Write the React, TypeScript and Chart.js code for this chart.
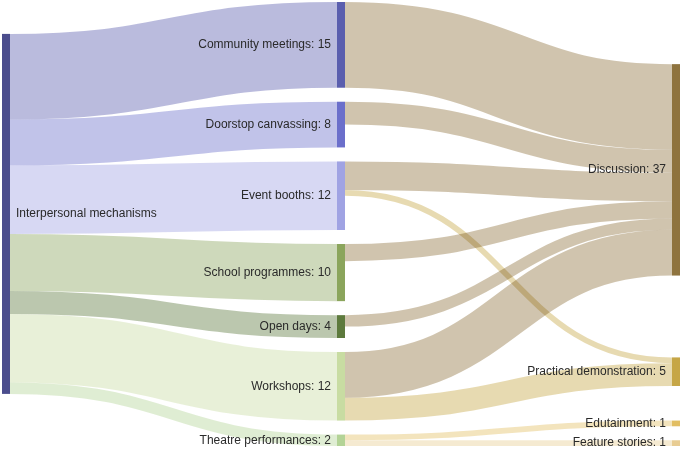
import { useEffect, useRef } from 'react';
import { Chart, registerables } from 'chart.js';

Chart.register(...registerables);

// ---------- data ----------
const nodeNames = [
  'Interpersonal mechanisms',
  'Community meetings',
  'Doorstop canvassing',
  'Event booths',
  'School programmes',
  'Open days',
  'Workshops',
  'Theatre performances',
  'Discussion',
  'Practical demonstration',
  'Edutainment',
  'Feature stories',
];

const linkSources = [0, 0, 0, 0, 0, 0, 0, 1, 2, 3, 3, 4, 5, 6, 6, 7, 7];
const linkTargets = [1, 2, 3, 4, 5, 6, 7, 8, 8, 8, 9, 8, 8, 8, 9, 10, 11];
const linkValues = [15, 8, 12, 10, 4, 12, 2, 15, 4, 5, 1, 3, 2, 8, 4, 1, 1];

// ---------- styles ----------
const nodeColors = [
  '#4b4d8d',
  '#5a5eae',
  '#6b6fcb',
  '#a0a3e3',
  '#8ba55c',
  '#5d7a3d',
  '#c8dca2',
  '#b3d396',
  '#8e733e',
  '#c6a646',
  '#e2be62',
  '#e8cc92',
];
const LINK_ALPHA = 0.42;
const NODE_WIDTH = 8;
const NODE_PADDING_PX = 14;
const ITERATIONS = 6;

function hexToRgba(hex: string, a: number) {
  const h = hex.replace('#', '');
  const r = parseInt(h.slice(0, 2), 16);
  const g = parseInt(h.slice(2, 4), 16);
  const b = parseInt(h.slice(4, 6), 16);
  return `rgba(${r},${g},${b},${a})`;
}

// ---------- d3-sankey style layout (in y-scale units) ----------
function computeSankey(y0: number, y1: number, nodePadding: number, iterations: number) {
  const nodes: any[] = nodeNames.map((name, index) => ({
    index, name, sourceLinks: [], targetLinks: [], value: 0, depth: 0, layer: 0, y0: 0, y1: 0,
  }));
  const links: any[] = linkValues.map((value, index) => ({
    index, source: nodes[linkSources[index]], target: nodes[linkTargets[index]], value, width: 0, y0: 0, y1: 0,
  }));
  for (const l of links) {
    l.source.sourceLinks.push(l);
    l.target.targetLinks.push(l);
  }
  const sumV = (arr: any[]) => arr.reduce((s, l) => s + l.value, 0);
  for (const n of nodes) n.value = Math.max(sumV(n.sourceLinks), sumV(n.targetLinks));

  let current = new Set<any>(nodes);
  let next = new Set<any>();
  let x = 0;
  while (current.size) {
    for (const node of current) {
      node.depth = x;
      for (const l of node.sourceLinks) next.add(l.target);
    }
    x++;
    current = next;
    next = new Set();
  }
  const nCols = x;
  for (const node of nodes) node.layer = node.sourceLinks.length ? node.depth : nCols - 1;
  const columns: any[][] = [];
  for (let i = 0; i < nCols; i++) columns.push([]);
  for (const node of nodes) columns[node.layer].push(node);

  const maxLen = Math.max(...columns.map((c) => c.length));
  const py = Math.min(nodePadding, (y1 - y0) / (maxLen - 1));

  const ascBreadth = (a: any, b: any) => a.y0 - b.y0;
  const ascSource = (a: any, b: any) => ascBreadth(a.source, b.source) || a.index - b.index;
  const ascTarget = (a: any, b: any) => ascBreadth(a.target, b.target) || a.index - b.index;

  const reorderLinks = (col: any[]) => {
    for (const n of col) {
      n.sourceLinks.sort(ascTarget);
      n.targetLinks.sort(ascSource);
    }
  };
  const reorderNodeLinks = (node: any) => {
    for (const l of node.targetLinks) l.source.sourceLinks.sort(ascTarget);
    for (const l of node.sourceLinks) l.target.targetLinks.sort(ascSource);
  };

  const ky = Math.min(
    ...columns.map((c) => (y1 - y0 - (c.length - 1) * py) / sumV(c.map((n) => ({ value: n.value })))),
  );
  for (const col of columns) {
    let y = y0;
    for (const node of col) {
      node.y0 = y;
      node.y1 = y + node.value * ky;
      y = node.y1 + py;
      for (const l of node.sourceLinks) l.width = l.value * ky;
    }
    y = (y1 - y + py) / (col.length + 1);
    for (let i = 0; i < col.length; i++) {
      col[i].y0 += y * (i + 1);
      col[i].y1 += y * (i + 1);
    }
    reorderLinks(col);
  }

  const targetTop = (source: any, target: any) => {
    let y = source.y0 - ((source.sourceLinks.length - 1) * py) / 2;
    for (const l of source.sourceLinks) {
      if (l.target === target) break;
      y += l.width + py;
    }
    for (const l of target.targetLinks) {
      if (l.source === source) break;
      y -= l.width;
    }
    return y;
  };
  const sourceTop = (source: any, target: any) => {
    let y = target.y0 - ((target.targetLinks.length - 1) * py) / 2;
    for (const l of target.targetLinks) {
      if (l.source === source) break;
      y += l.width + py;
    }
    for (const l of source.sourceLinks) {
      if (l.target === target) break;
      y -= l.width;
    }
    return y;
  };

  const collTopToBottom = (col: any[], y: number, i: number, alpha: number) => {
    for (; i < col.length; ++i) {
      const node = col[i];
      const dy = (y - node.y0) * alpha;
      if (dy > 1e-6) { node.y0 += dy; node.y1 += dy; }
      y = node.y1 + py;
    }
  };
  const collBottomToTop = (col: any[], y: number, i: number, alpha: number) => {
    for (; i >= 0; --i) {
      const node = col[i];
      const dy = (node.y1 - y) * alpha;
      if (dy > 1e-6) { node.y0 -= dy; node.y1 -= dy; }
      y = node.y0 - py;
    }
  };
  const resolveCollisions = (col: any[], alpha: number) => {
    const i = col.length >> 1;
    const subject = col[i];
    collBottomToTop(col, subject.y0 - py, i - 1, alpha);
    collTopToBottom(col, subject.y1 + py, i + 1, alpha);
    collBottomToTop(col, y1, col.length - 1, alpha);
    collTopToBottom(col, y0, 0, alpha);
  };

  const relaxLeftToRight = (alpha: number, beta: number) => {
    for (let i = 1; i < columns.length; ++i) {
      const col = columns[i];
      for (const target of col) {
        let y = 0;
        let w = 0;
        for (const l of target.targetLinks) {
          const v = l.value * (target.layer - l.source.layer);
          y += targetTop(l.source, target) * v;
          w += v;
        }
        if (!(w > 0)) continue;
        const dy = (y / w - target.y0) * alpha;
        target.y0 += dy;
        target.y1 += dy;
        reorderNodeLinks(target);
      }
      col.sort(ascBreadth);
      resolveCollisions(col, beta);
    }
  };
  const relaxRightToLeft = (alpha: number, beta: number) => {
    for (let i = columns.length - 2; i >= 0; --i) {
      const col = columns[i];
      for (const source of col) {
        let y = 0;
        let w = 0;
        for (const l of source.sourceLinks) {
          const v = l.value * (l.target.layer - source.layer);
          y += sourceTop(source, l.target) * v;
          w += v;
        }
        if (!(w > 0)) continue;
        const dy = (y / w - source.y0) * alpha;
        source.y0 += dy;
        source.y1 += dy;
        reorderNodeLinks(source);
      }
      col.sort(ascBreadth);
      resolveCollisions(col, beta);
    }
  };

  for (let i = 0; i < iterations; ++i) {
    const alpha = Math.pow(0.99, i);
    const beta = Math.max(1 - alpha, (i + 1) / iterations);
    relaxRightToLeft(alpha, beta);
    relaxLeftToRight(alpha, beta);
  }

  for (const node of nodes) {
    node.sourceLinks.sort(ascTarget);
    node.targetLinks.sort(ascSource);
  }
  for (const node of nodes) {
    let a = node.y0;
    let b = node.y0;
    for (const l of node.sourceLinks) { l.y0 = a + l.width / 2; a += l.width; }
    for (const l of node.targetLinks) { l.y1 = b + l.width / 2; b += l.width; }
  }
  return { nodes, links, nCols };
}

const sankeyPlugin = {
  id: 'sankeyDraw',
  afterDatasetsDraw(chart: any) {
    const ctx = chart.ctx;
    const xs = chart.scales.x;
    const ys = chart.scales.y;
    const pxPerUnit = Math.abs(ys.getPixelForValue(1) - ys.getPixelForValue(0));
    const top = Math.min(ys.min, ys.max);
    const bottom = Math.max(ys.min, ys.max);
    const { nodes, links } = computeSankey(top, bottom, NODE_PADDING_PX / pxPerUnit, ITERATIONS);
    const nx0 = (n: any) => xs.getPixelForValue(n.layer);
    const nx1 = (n: any) => xs.getPixelForValue(n.layer) + NODE_WIDTH;

    ctx.save();
    ctx.globalCompositeOperation = 'multiply';
    for (const l of links) {
      const sx = nx1(l.source);
      const tx = nx0(l.target);
      const sy = ys.getPixelForValue(l.y0);
      const ty = ys.getPixelForValue(l.y1);
      const mx = (sx + tx) / 2;
      ctx.beginPath();
      ctx.moveTo(sx, sy);
      ctx.bezierCurveTo(mx, sy, mx, ty, tx, ty);
      ctx.lineWidth = Math.max(1, l.width * pxPerUnit);
      ctx.strokeStyle = hexToRgba(nodeColors[l.target.index], LINK_ALPHA);
      ctx.lineCap = 'butt';
      ctx.stroke();
    }
    ctx.globalCompositeOperation = 'source-over';
    for (const n of nodes) {
      const a = ys.getPixelForValue(n.y0);
      const b = ys.getPixelForValue(n.y1);
      ctx.fillStyle = nodeColors[n.index];
      ctx.fillRect(nx0(n), Math.min(a, b), NODE_WIDTH, Math.abs(b - a));
    }
    ctx.font = '12px "Liberation Sans", Arial, sans-serif';
    ctx.fillStyle = '#2a2a2a';
    ctx.textBaseline = 'middle';
    for (const n of nodes) {
      const cy = (ys.getPixelForValue(n.y0) + ys.getPixelForValue(n.y1)) / 2;
      const label = n.layer === 0 ? n.name : `${n.name}: ${n.value}`;
      if (n.layer === 0) {
        ctx.textAlign = 'left';
        ctx.fillText(label, nx1(n) + 6, cy);
      } else {
        ctx.textAlign = 'right';
        ctx.fillText(label, nx0(n) - 6, cy);
      }
    }
    ctx.restore();
  },
};

export default function App() {
  const ref = useRef<HTMLCanvasElement | null>(null);
  useEffect(() => {
    document.body.style.margin = '0';
    if (!ref.current) return;
    const chart = new Chart(ref.current, {
      type: 'scatter',
      data: { datasets: [{ data: [], showLine: false }] },
      options: {
        animation: false,
        responsive: false,
        devicePixelRatio: 1,
        layout: { padding: { left: 2, right: 13, top: 2, bottom: 3 } },
        plugins: { legend: { display: false }, tooltip: { enabled: false } },
        scales: {
          x: { type: 'linear', min: 0, max: 2, display: false },
          y: { type: 'linear', min: 0, max: 100, reverse: true, display: false },
        },
      },
      plugins: [sankeyPlugin],
    });
    return () => chart.destroy();
  }, []);
  return (
    <div style={{ width: 685, height: 449 }}>
      <canvas ref={ref} width={685} height={449} />
    </div>
  );
}
